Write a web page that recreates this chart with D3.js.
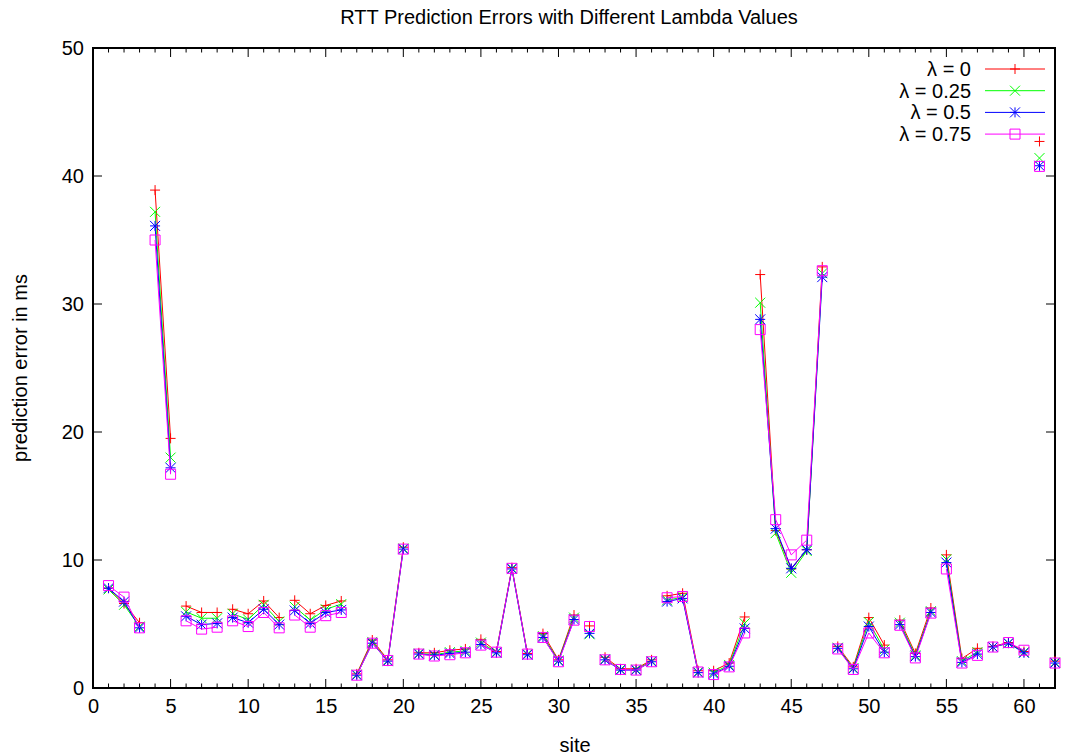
<!DOCTYPE html>
<html>
<head>
<meta charset="utf-8">
<script src="https://cdn.jsdelivr.net/npm/d3@7"></script>
<style>
  html, body { margin: 0; padding: 0; background: #fff; }
  svg text { font-family: "Liberation Sans", Arial, Helvetica, sans-serif; fill: #000; }
</style>
</head>
<body>
<svg id="chart" width="1069" height="756"></svg>
<script>
// ---------- data ----------
const sites = d3.range(1, 63);
// first site of each connected run of points
const runStarts = [1, 4, 6, 9, 13, 17, 21, 25, 29, 32, 33, 37, 40, 43, 48, 52, 55, 58, 61, 62];

const lambda0 = [7.8, 6.6, 5.1, 38.9, 19.5, 6.4, 5.9, 5.9, 6.15, 5.8,
  6.8, 5.5, 6.85, 5.8, 6.45, 6.8, 1.1, 3.75, 2.2, 11.0,
  2.75, 2.75, 2.95, 3.05, 3.8, 2.85, 9.4, 2.7, 4.25, 2.2,
  5.7, 4.85, 2.4, 1.5, 1.5, 2.2, 7.2, 7.4, 1.35, 1.35,
  1.95, 5.55, 32.3, 12.3, 9.3, 10.8, 32.9, 3.25, 1.65, 5.5,
  3.35, 5.3, 2.7, 6.25, 10.4, 2.3, 3.1, 3.25, 3.55, 2.85,
  42.7, 2.1];
const lambda025 = [7.7, 6.5, 4.8, 37.2, 18.0, 5.95, 5.45, 5.45, 5.8, 5.35,
  6.5, 5.2, 6.35, 5.3, 6.15, 6.55, 1.05, 3.6, 2.15, 10.9,
  2.7, 2.6, 2.8, 2.9, 3.55, 2.8, 9.35, 2.65, 4.05, 2.15,
  5.5, 4.2, 2.25, 1.45, 1.45, 2.1, 6.85, 7.1, 1.25, 1.2,
  1.8, 5.05, 30.1, 12.1, 9.0, 10.7, 32.4, 3.15, 1.55, 5.15,
  3.0, 5.1, 2.55, 6.0, 10.05, 2.1, 2.8, 3.2, 3.5, 2.8,
  41.4, 2.0];
const lambda05 = [7.8, 6.75, 4.7, 36.1, 17.2, 5.6, 4.95, 5.05, 5.5, 5.1,
  6.15, 4.95, 6.05, 5.05, 5.9, 6.1, 1.0, 3.5, 2.1, 10.85,
  2.65, 2.55, 2.7, 2.8, 3.4, 2.75, 9.3, 2.6, 3.95, 2.1,
  5.35, 4.27, 2.2, 1.4, 1.4, 2.05, 6.75, 7.0, 1.2, 1.1,
  1.7, 4.65, 28.8, 12.45, 9.35, 10.8, 32.1, 3.1, 1.5, 4.8,
  2.8, 4.95, 2.45, 5.9, 9.8, 2.0, 2.65, 3.2, 3.5, 2.75,
  40.8, 1.95];
const lambda075 = [8.0, 7.1, 4.7, 35.0, 16.7, 5.25, 4.6, 4.75, 5.25, 4.8,
  5.9, 4.7, 5.7, 4.75, 5.65, 5.9, 1.0, 3.5, 2.15, 10.85,
  2.65, 2.5, 2.6, 2.75, 3.35, 2.8, 9.35, 2.65, 3.95, 2.05,
  5.3, 4.8, 2.2, 1.45, 1.4, 2.05, 7.05, 7.15, 1.25, 1.05,
  1.65, 4.3, 28.0, 13.15, 10.4, 11.55, 32.6, 3.05, 1.45, 4.3,
  2.75, 4.9, 2.35, 5.85, 9.3, 1.95, 2.55, 3.2, 3.55, 2.95,
  40.75, 1.95];

const seriesNames = ["\u03bb = 0", "\u03bb = 0.25", "\u03bb = 0.5", "\u03bb = 0.75"];
const seriesValues = [lambda0, lambda025, lambda05, lambda075];
const seriesColors = ["#ff0000", "#00ff00", "#0000ff", "#ff00ff"];
const seriesMarkers = ["plus", "cross", "star", "square"];

const xTicks = [0, 5, 10, 15, 20, 25, 30, 35, 40, 45, 50, 55, 60];
const yTicks = [0, 10, 20, 30, 40, 50];

const titleText = "RTT Prediction Errors with Different Lambda Values";
const xLabel = "site";
const yLabel = "prediction error in ms";

// ---------- layout ----------
const m = { left: 93, right: 1055, top: 48, bottom: 688 };
const svg = d3.select("#chart");

const x = d3.scaleLinear().domain([0, 62]).range([m.left, m.right]);
const y = d3.scaleLinear().domain([0, 50]).range([m.bottom, m.top]);

const FS = 20;

// ---------- ticks ----------
const minorX = d3.range(0, 63);
const g = svg.append("g");
minorX.forEach(v => {
  const len = (v % 5 === 0) ? 9 : 4.5;
  g.append("line").attr("x1", x(v)).attr("x2", x(v))
    .attr("y1", m.bottom).attr("y2", m.bottom - len)
    .attr("stroke", "#000").attr("stroke-width", 1);
  g.append("line").attr("x1", x(v)).attr("x2", x(v))
    .attr("y1", m.top).attr("y2", m.top + len)
    .attr("stroke", "#000").attr("stroke-width", 1);
});
yTicks.forEach(v => {
  g.append("line").attr("x1", m.left).attr("x2", m.left + 9)
    .attr("y1", y(v)).attr("y2", y(v)).attr("stroke", "#000").attr("stroke-width", 1);
  g.append("line").attr("x1", m.right).attr("x2", m.right - 9)
    .attr("y1", y(v)).attr("y2", y(v)).attr("stroke", "#000").attr("stroke-width", 1);
});

const xAxis = svg.append("g").attr("transform", `translate(0,${m.bottom})`)
  .call(d3.axisBottom(x).tickValues(xTicks).tickSize(0).tickPadding(11).tickFormat(d3.format("d")));
xAxis.select(".domain").remove();

const yAxis = svg.append("g").attr("transform", `translate(${m.left},0)`)
  .call(d3.axisLeft(y).tickValues(yTicks).tickSize(0).tickPadding(9).tickFormat(d3.format("d")));
yAxis.select(".domain").remove();
svg.selectAll(".tick text").attr("font-size", FS)
  .attr("font-family", "Liberation Sans, Arial, sans-serif").attr("fill", "#000");
svg.selectAll("g").attr("font-size", null).attr("font-family", null);

// border
svg.append("rect").attr("x", m.left).attr("y", m.top)
  .attr("width", m.right - m.left).attr("height", m.bottom - m.top)
  .attr("fill", "none").attr("stroke", "#000").attr("stroke-width", 2);

// ---------- titles ----------
svg.append("text").attr("x", 569).attr("y", 24).attr("text-anchor", "middle")
  .attr("font-size", FS).text(titleText);
svg.append("text").attr("x", 575).attr("y", 752).attr("text-anchor", "middle")
  .attr("font-size", FS).text(xLabel);
svg.append("text").attr("transform", `translate(27,${(m.top + m.bottom) / 2}) rotate(-90)`)
  .attr("text-anchor", "middle").attr("font-size", FS).text(yLabel);

// ---------- markers ----------
const R = 5;
const markerPath = {
  plus: `M${-R},0H${R}M0,${-R}V${R}`,
  cross: `M${-R},${-R}L${R},${R}M${-R},${R}L${R},${-R}`,
  star: `M${-R},0H${R}M0,${-R}V${R}M${-R},${-R}L${R},${R}M${-R},${R}L${R},${-R}`,
  square: `M${-R},${-R}H${R}V${R}H${-R}Z`
};

const runId = sites.map(s => d3.bisectRight(runStarts, s));
const line = d3.line().x(d => x(d.site)).y(d => y(d.value));

seriesValues.forEach((vals, i) => {
  const pts = sites.map((s, k) => ({ site: s, value: vals[k], run: runId[k] }));
  const runs = d3.groups(pts, d => d.run).map(r => r[1]);
  const sg = svg.append("g");
  sg.selectAll("path.seg").data(runs.filter(r => r.length > 1)).join("path")
    .attr("class", "seg").attr("d", line)
    .attr("fill", "none").attr("stroke", seriesColors[i]).attr("stroke-width", 1);
  sg.selectAll("path.mk").data(pts).join("path")
    .attr("class", "mk")
    .attr("transform", d => `translate(${x(d.site)},${y(d.value)})`)
    .attr("d", markerPath[seriesMarkers[i]])
    .attr("fill", "none").attr("stroke", seriesColors[i]).attr("stroke-width", 1);
});

// ---------- legend ----------
const lg = svg.append("g");
seriesNames.forEach((name, i) => {
  const ly = 69 + i * 21.7;
  lg.append("text").attr("x", 971).attr("y", ly).attr("dy", "0.35em")
    .attr("text-anchor", "end").attr("font-size", FS).text(name);
  lg.append("line").attr("x1", 985).attr("x2", 1045).attr("y1", ly).attr("y2", ly)
    .attr("stroke", seriesColors[i]).attr("stroke-width", 1);
  lg.append("path").attr("transform", `translate(1015,${ly})`)
    .attr("d", markerPath[seriesMarkers[i]])
    .attr("fill", "none").attr("stroke", seriesColors[i]).attr("stroke-width", 1);
});
</script>
</body>
</html>
